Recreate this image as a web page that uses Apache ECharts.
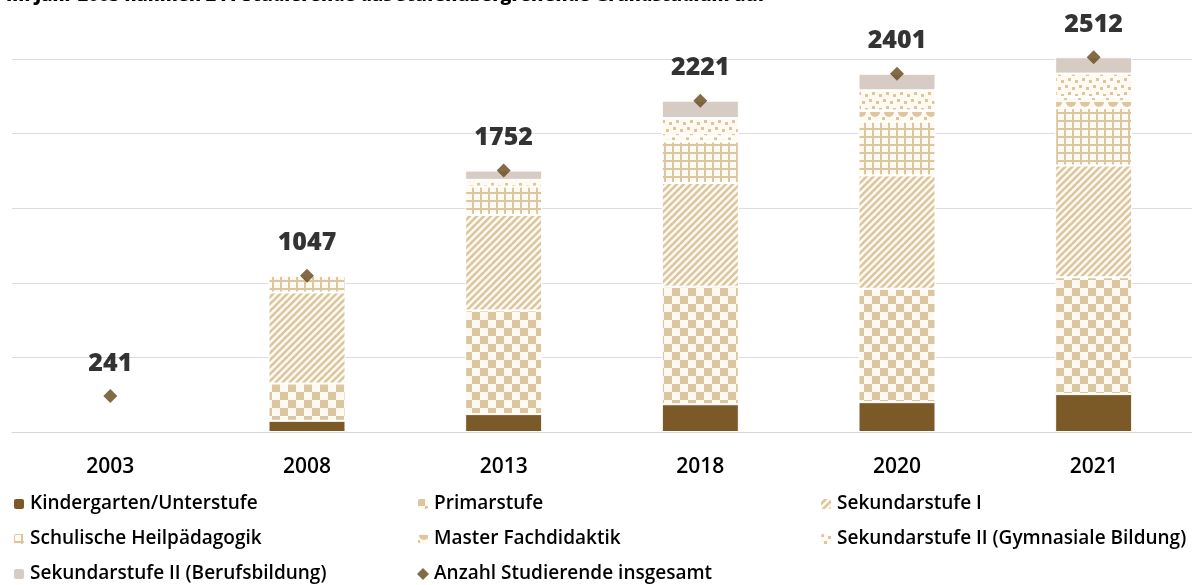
<!DOCTYPE html>
<html lang="de">
<head>
    <meta http-equiv="Content-Type" content="text/html; charset=utf-8"/>
    <title>Studierende</title>
    <script type="text/javascript" src="https://cdn.jsdelivr.net/npm/echarts@6/dist/echarts.min.js"></script>
    <style>
        html, body { margin: 0; padding: 0; background: #fff; }
        #chart { width: 1192px; height: 585px; }
    </style>
</head>
<body>
<div id="chart"></div>
<script type="text/javascript">
    // Daten
    var years = ['2003', '2008', '2013', '2018', '2020', '2021'];
    var kindergarten = [null, 75, 120, 186, 200, 254];
    var primar = [null, 250, 695, 788, 760, 783];
    var sek1 = [null, 610, 640, 695, 760, 749];
    var heil = [null, 112, 190, 278, 360, 385];
    var master = [null, 0, 0, 35, 75, 74];
    var gym = [null, 0, 45, 122, 135, 157];
    var beruf = [null, 0, 62, 117, 111, 110];
    var total = [241, 1047, 1752, 2221, 2401, 2512];

    var TAN = '#dcc6a0';
    var BG = '#fffaf1';
    var FONT = 'Open Sans';

    function makeCanvas(w, h) {
        var c = document.createElement('canvas');
        c.width = w; c.height = h;
        var ctx = c.getContext('2d');
        ctx.fillStyle = BG;
        ctx.fillRect(0, 0, w, h);
        ctx.fillStyle = TAN;
        ctx.strokeStyle = TAN;
        return c;
    }

    // Schachbrett (Primarstufe)
    function checkerPattern() {
        var c = makeCanvas(16, 16), ctx = c.getContext('2d');
        ctx.fillRect(0, 0, 8, 8);
        ctx.fillRect(8, 8, 8, 8);
        return {image: c, repeat: 'repeat'};
    }
    // Schraffur (Sekundarstufe I)
    function diagPattern() {
        var c = makeCanvas(7, 7), ctx = c.getContext('2d');
        ctx.lineWidth = 2.6;
        for (var k = -1; k <= 1; k++) {
            ctx.beginPath();
            ctx.moveTo(-1 + k * 7, 8);
            ctx.lineTo(8 + k * 7, -1);
            ctx.stroke();
        }
        return {image: c, repeat: 'repeat'};
    }
    // Gitter (Heilpaedagogik)
    function gridPattern() {
        var c = makeCanvas(8, 8), ctx = c.getContext('2d');
        ctx.fillRect(0, 0, 2, 8);
        ctx.fillRect(0, 0, 8, 2);
        return {image: c, repeat: 'repeat'};
    }
    // Boegen (Master)
    function scallopPattern() {
        var c = makeCanvas(14, 10), ctx = c.getContext('2d');
        ctx.beginPath();
        ctx.arc(7, 2, 5, 0, Math.PI);
        ctx.fill();
        ctx.fillRect(0, 7, 3, 3);
        return {image: c, repeat: 'repeat'};
    }
    // Punkte (Gymnasiale Bildung)
    function dotPattern() {
        var c = makeCanvas(14, 14), ctx = c.getContext('2d');
        ctx.fillRect(1, 1, 3, 3);
        ctx.fillRect(8, 3, 3, 3);
        ctx.fillRect(4, 8, 3, 3);
        ctx.fillRect(11, 10, 3, 3);
        return {image: c, repeat: 'repeat'};
    }

    function barSeries(name, data, color) {
        return {
            name: name,
            type: 'bar',
            stack: 'total',
            barWidth: 77,
            clip: false,
            data: data,
            itemStyle: {color: color, borderColor: '#fff', borderWidth: 1},
            emphasis: {disabled: true}
        };
    }

    var chart = echarts.init(document.getElementById('chart'));
    var legendText = {fontFamily: FONT, fontSize: 19, fontWeight: 600, color: '#000', lineHeight: 22};
    var legendBase = {orient: 'vertical', top: 493, itemGap: 13, itemWidth: 12, itemHeight: 12,
        textStyle: legendText, selectedMode: false, padding: 0};

    var option = {
        animation: false,
        title: {
            text: 'Im Jahr 2003 nahmen 241 Studierende das stufenübergreifende Grundstudium auf',
            left: 6, top: -13, padding: 0,
            textStyle: {fontFamily: FONT, fontSize: 18, fontWeight: 800, color: '#000'}
        },
        grid: {left: 12, right: -5, top: 59, bottom: 153},
        legend: [
            Object.assign({}, legendBase, {left: 12, data: ['Kindergarten/Unterstufe', 'Schulische Heilpädagogik', 'Sekundarstufe II (Berufsbildung)']}),
            Object.assign({}, legendBase, {left: 416, data: ['Primarstufe', 'Master Fachdidaktik', {name: 'Anzahl Studierende insgesamt', icon: 'diamond'}]}),
            Object.assign({}, legendBase, {left: 819, data: ['Sekundarstufe I', 'Sekundarstufe II (Gymnasiale Bildung)']})
        ],
        xAxis: {
            type: 'category',
            data: years,
            axisTick: {show: false},
            axisLine: {lineStyle: {color: '#d8d8d8', width: 1}},
            axisLabel: {fontFamily: FONT, fontSize: 21, fontWeight: 600, color: '#000', margin: 25}
        },
        yAxis: {
            type: 'value',
            min: 0, max: 2500, interval: 500,
            axisLabel: {show: false},
            axisLine: {show: false},
            axisTick: {show: false},
            splitLine: {lineStyle: {color: '#dcdcdc', width: 1}}
        },
        series: [
            barSeries('Kindergarten/Unterstufe', kindergarten, '#7b5a28'),
            barSeries('Primarstufe', primar, checkerPattern()),
            barSeries('Sekundarstufe I', sek1, diagPattern()),
            barSeries('Schulische Heilpädagogik', heil, gridPattern()),
            barSeries('Master Fachdidaktik', master, scallopPattern()),
            barSeries('Sekundarstufe II (Gymnasiale Bildung)', gym, dotPattern()),
            barSeries('Sekundarstufe II (Berufsbildung)', beruf, '#d6ccc3'),
            {
                name: 'Anzahl Studierende insgesamt',
                type: 'scatter',
                symbol: 'diamond',
                symbolSize: 14,
                clip: false,
                z: 10,
                data: total,
                itemStyle: {color: '#654619'},
                label: {
                    show: true,
                    position: 'top',
                    distance: 13,
                    fontFamily: FONT,
                    fontSize: 25,
                    fontWeight: 800,
                    color: '#000'
                },
                emphasis: {disabled: true}
            }
        ]
    };
    chart.setOption(option);
</script>
</body>
</html>
